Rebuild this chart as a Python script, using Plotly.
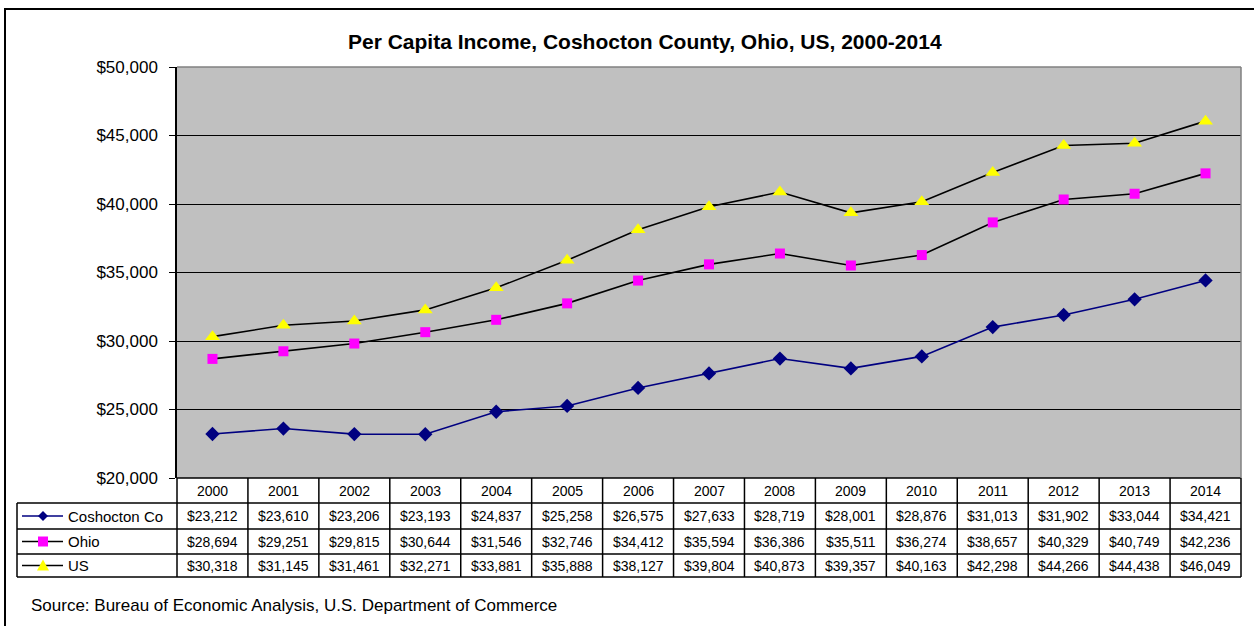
import plotly.graph_objects as go

years = list(range(2000, 2015))
coshocton = [23212, 23610, 23206, 23193, 24837, 25258, 26575, 27633, 28719, 28001, 28876, 31013, 31902, 33044, 34421]
ohio = [28694, 29251, 29815, 30644, 31546, 32746, 34412, 35594, 36386, 35511, 36274, 38657, 40329, 40749, 42236]
us = [30318, 31145, 31461, 32271, 33881, 35888, 38127, 39804, 40873, 39357, 40163, 42298, 44266, 44438, 46049]
names = ["Coshocton Co", "Ohio", "US"]
y_ticks = [20000, 25000, 30000, 35000, 40000, 45000, 50000]

W, H = 1254, 626
L, R, T, B = 177, 13, 67, 148
PW, PH = W - L - R, H - T - B
FONT = "Liberation Sans, Arial, sans-serif"


def px2x(X):
    return (X - L) / PW


def px2y(Y):
    return (H - B - Y) / PH


styles = [
    dict(line="#000080", marker="#000080", symbol="diamond", size=11),
    dict(line="#000000", marker="#FF00FF", symbol="square", size=10),
    dict(line="#000000", marker="#FFFF00", symbol="triangle-up", size=13),
]
series = [coshocton, ohio, us]

fig = go.Figure()
for name, vals, st in zip(names, series, styles):
    fig.add_trace(go.Scatter(
        x=years, y=vals, name=name, mode="lines+markers",
        line=dict(color=st["line"], width=1.6),
        marker=dict(symbol=st["symbol"], size=st["size"], color=st["marker"],
                    line=dict(width=0)),
        showlegend=False,
    ))

shapes = []
annots = []

# outer frame (right/bottom edges fall outside the view)
shapes.append(dict(type="rect", xref="paper", yref="paper",
                   x0=px2x(5), x1=px2x(1262), y0=px2y(634), y1=px2y(9),
                   line=dict(color="black", width=2)))

# table grid
row_edges = [478, 503, 529, 554, 577]
left_tab, right_tab = 17, 1241
for i, yy in enumerate(row_edges):
    x0 = L if i == 0 else left_tab
    shapes.append(dict(type="line", xref="paper", yref="paper",
                       x0=px2x(x0), x1=px2x(right_tab), y0=px2y(yy), y1=px2y(yy),
                       line=dict(color="black", width=1.5)))
n = len(years)
for k in range(n + 1):
    xx = L + k * (right_tab - L) / n
    shapes.append(dict(type="line", xref="paper", yref="paper",
                       x0=px2x(xx), x1=px2x(xx), y0=px2y(478), y1=px2y(577),
                       line=dict(color="black", width=1.5)))
shapes.append(dict(type="line", xref="paper", yref="paper",
                   x0=px2x(left_tab), x1=px2x(left_tab), y0=px2y(503), y1=px2y(577),
                   line=dict(color="black", width=1.5)))

# header years
for yv in years:
    annots.append(dict(x=yv, xref="x", y=px2y(490.5), yref="paper", text=str(yv),
                       showarrow=False, font=dict(size=14, color="black", family=FONT),
                       xanchor="center", yanchor="middle"))

# body rows
row_centers = [516, 541.5, 565.5]
for r, (name, vals, st) in enumerate(zip(names, series, styles)):
    yc = row_centers[r]
    for yv, v in zip(years, vals):
        annots.append(dict(x=yv, xref="x", y=px2y(yc), yref="paper",
                           text="${:,}".format(v), showarrow=False,
                           font=dict(size=14, color="black", family=FONT),
                           xanchor="center", yanchor="middle"))
    annots.append(dict(x=px2x(66), xref="paper", y=px2y(yc), yref="paper", text=name,
                       showarrow=False, font=dict(size=15, color="black", family=FONT),
                       xanchor="left", yanchor="middle"))
    shapes.append(dict(type="line", xref="paper", yref="paper",
                       x0=px2x(22), x1=px2x(63), y0=px2y(yc), y1=px2y(yc),
                       line=dict(color=st["line"], width=1.6)))
    cx = 43
    if st["symbol"] == "diamond":
        pts = [(cx - 5, yc), (cx, yc - 5), (cx + 5, yc), (cx, yc + 5)]
    elif st["symbol"] == "square":
        pts = [(cx - 5, yc - 5), (cx + 5, yc - 5), (cx + 5, yc + 5), (cx - 5, yc + 5)]
    else:
        pts = [(cx - 6, yc + 5), (cx, yc - 6), (cx + 6, yc + 5)]
    path = "M " + " L ".join("{:.5f},{:.5f}".format(px2x(a), px2y(b)) for a, b in pts) + " Z"
    shapes.append(dict(type="path", xref="paper", yref="paper", path=path,
                       fillcolor=st["marker"], line=dict(width=0)))

# title and source
annots.append(dict(x=px2x(645), xref="paper", y=px2y(42), yref="paper",
                   text="<b>Per Capita Income, Coshocton County, Ohio, US, 2000-2014</b>",
                   showarrow=False, font=dict(size=21, color="black", family=FONT),
                   xanchor="center", yanchor="middle"))
annots.append(dict(x=px2x(29), xref="paper", y=px2y(605), yref="paper",
                   text="Source: Bureau of Economic Analysis, U.S. Department of Commerce",
                   showarrow=False, font=dict(size=17, color="black", family=FONT),
                   xanchor="left", yanchor="middle"))

# plot-area border top/right in gray
shapes.append(dict(type="line", xref="paper", yref="paper", x0=0, x1=1, y0=1, y1=1,
                   line=dict(color="#808080", width=1.5)))
shapes.append(dict(type="line", xref="paper", yref="paper", x0=1, x1=1, y0=0, y1=1,
                   line=dict(color="#808080", width=1.5)))

fig.update_layout(
    width=W, height=H,
    margin=dict(l=L, r=R, t=T, b=B),
    paper_bgcolor="white", plot_bgcolor="#C0C0C0",
    font=dict(family=FONT, color="black"),
    shapes=shapes, annotations=annots,
    xaxis=dict(range=[1999.5, 2014.5], showticklabels=False, showgrid=False,
               zeroline=False, ticks="", showline=False, fixedrange=True),
    yaxis=dict(range=[20000, 50000], tickvals=y_ticks,
               ticktext=["${:,}".format(v) for v in y_ticks],
               tickfont=dict(size=17, family=FONT, color="black"),
               showgrid=True, gridcolor="black", gridwidth=1.3,
               zeroline=False, showline=True, linecolor="black", linewidth=1.5,
               ticks="outside", ticklen=6, tickcolor="black", tickwidth=1.3,
               ticklabelstandoff=8, fixedrange=True),
)

fig.write_html("out.html", config={"displayModeBar": False},
               post_script="document.body.style.margin='0';")
